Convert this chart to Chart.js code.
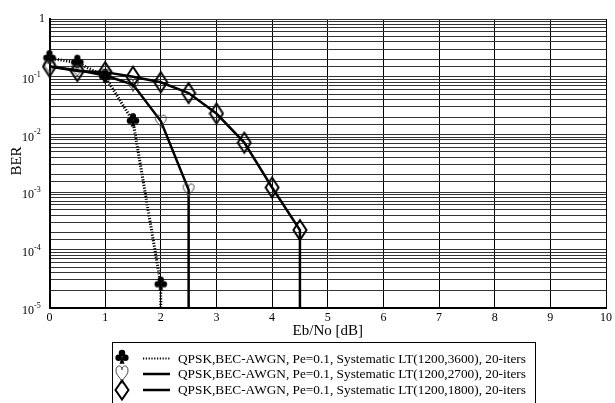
<!DOCTYPE html>
<html>
<head>
<meta charset="utf-8">
<script src="https://cdn.jsdelivr.net/npm/chart.js@4"></script>
<style>
  body { margin: 0; background: #fff; }
  canvas { display: block; }
</style>
</head>
<body>
<canvas id="berChart" width="615" height="403"></canvas>
<script>
// BER curves, Eb/No in dB
const clubsEbNo = [0, 0.5, 1, 1.5, 2, 2];
const clubsBer = [0.21, 0.175, 0.1, 0.017, 2.5e-5, 1e-9];   // last point: drop to zero errors

const heartsEbNo = [0, 0.5, 1, 1.5, 2, 2.5, 2.5];
const heartsBer = [0.15, 0.13, 0.105, 0.073, 0.017, 0.0011, 1e-9];

const diamondsEbNo = [0, 0.5, 1, 1.5, 2, 2.5, 3, 3.5, 4, 4.5, 4.5];
const diamondsBer = [0.15, 0.125, 0.12, 0.1, 0.08, 0.052, 0.023, 0.0072, 0.0012, 0.00022, 1e-9];

const xTicks = [0, 1, 2, 3, 4, 5, 6, 7, 8, 9, 10];
const yDecades = [0, -1, -2, -3, -4, -5];

const legendLabels = [
    'QPSK,BEC-AWGN, Pe=0.1, Systematic LT(1200,3600), 20-iters',
    'QPSK,BEC-AWGN, Pe=0.1, Systematic LT(1200,2700), 20-iters',
    'QPSK,BEC-AWGN, Pe=0.1, Systematic LT(1200,1800), 20-iters'
];

const serif = '"Liberation Serif", "DejaVu Serif", serif';

function drawClub(ctx, cx, cy, s) {
    ctx.save();
    ctx.fillStyle = '#000';
    ctx.beginPath(); ctx.arc(cx, cy - 3.4 * s, 3.1 * s, 0, Math.PI * 2); ctx.fill();
    ctx.beginPath(); ctx.arc(cx - 3.2 * s, cy + 1.2 * s, 3.1 * s, 0, Math.PI * 2); ctx.fill();
    ctx.beginPath(); ctx.arc(cx + 3.2 * s, cy + 1.2 * s, 3.1 * s, 0, Math.PI * 2); ctx.fill();
    ctx.beginPath();
    ctx.moveTo(cx, cy);
    ctx.lineTo(cx - 2.4 * s, cy + 7 * s);
    ctx.lineTo(cx + 2.4 * s, cy + 7 * s);
    ctx.closePath();
    ctx.fill();
    ctx.restore();
}

function drawHeart(ctx, cx, cy, w, h) {
    ctx.save();
    ctx.strokeStyle = '#444';
    ctx.lineWidth = 1;
    ctx.beginPath();
    ctx.moveTo(cx, cy - h * 0.22);
    ctx.bezierCurveTo(cx, cy - h * 0.5, cx - w / 2, cy - h * 0.5, cx - w / 2, cy - h * 0.18);
    ctx.bezierCurveTo(cx - w / 2, cy + h * 0.1, cx, cy + h * 0.22, cx, cy + h / 2);
    ctx.bezierCurveTo(cx, cy + h * 0.22, cx + w / 2, cy + h * 0.1, cx + w / 2, cy - h * 0.18);
    ctx.bezierCurveTo(cx + w / 2, cy - h * 0.5, cx, cy - h * 0.5, cx, cy - h * 0.22);
    ctx.stroke();
    ctx.restore();
}

function drawDiamond(ctx, cx, cy, w, h) {
    ctx.save();
    ctx.strokeStyle = '#000';
    ctx.lineWidth = 2;
    ctx.beginPath();
    ctx.moveTo(cx, cy - h / 2);
    ctx.lineTo(cx + w / 2, cy);
    ctx.lineTo(cx, cy + h / 2);
    ctx.lineTo(cx - w / 2, cy);
    ctx.closePath();
    ctx.stroke();
    ctx.restore();
}

function makeMarker(w, h, fn) {
    const c = document.createElement('canvas');
    c.width = w;
    c.height = h;
    fn(c.getContext('2d'), w / 2, h / 2);
    return c;
}

const clubImg = makeMarker(16, 18, (ctx, cx, cy) => drawClub(ctx, cx, cy - 1.5, 1));
const heartImg = makeMarker(14, 16, (ctx, cx, cy) => drawHeart(ctx, cx, cy, 11, 14));
const diamondImg = makeMarker(16, 24, (ctx, cx, cy) => drawDiamond(ctx, cx, cy, 13, 20));

function toPoints(xs, ys) {
    return xs.map((x, i) => ({ x: x, y: ys[i] }));
}

function radii(n) {
    return Array.from({ length: n }, (_, i) => (i === n - 1 ? 0 : 6));
}

// markers may spill over the plot edge, lines must stop at the bottom
const markClip = { left: 12, top: 12, right: 12, bottom: 0 };

// y tick labels, axis titles and legend box
const decorPlugin = {
    id: 'decor',
    afterDraw(chart) {
        const ctx = chart.ctx;
        const yScale = chart.scales.y;
        const area = chart.chartArea;
        ctx.save();
        ctx.fillStyle = '#000';
        ctx.textBaseline = 'middle';

        yDecades.forEach(e => {
            const py = yScale.getPixelForValue(Math.pow(10, e));
            if (e === 0) {
                ctx.font = '12px ' + serif;
                ctx.textAlign = 'right';
                ctx.fillText('1', 45, py);
            } else {
                ctx.font = '12px ' + serif;
                ctx.textAlign = 'right';
                ctx.fillText('10', 34, py + 3);
                ctx.font = '8px ' + serif;
                ctx.textAlign = 'left';
                ctx.fillText(String(e), 34, py - 2);
            }
        });

        // axis titles
        ctx.font = '15px ' + serif;
        ctx.textAlign = 'center';
        ctx.fillText('Eb/No [dB]', (area.left + area.right) / 2, 331);
        ctx.save();
        ctx.translate(17, 161);
        ctx.rotate(-Math.PI / 2);
        ctx.fillText('BER', 0, 0);
        ctx.restore();

        // legend
        ctx.strokeStyle = '#000';
        ctx.lineWidth = 1;
        ctx.strokeRect(112.5, 342.5, 423, 80);
        const rows = [358.5, 374, 390];
        drawClub(ctx, 122, rows[0] - 2, 1.05);
        drawHeart(ctx, 122, rows[1], 12, 19);
        drawDiamond(ctx, 122, rows[2], 13, 19);

        ctx.beginPath();
        ctx.lineWidth = 2;
        ctx.setLineDash([1.2, 1.6]);
        ctx.moveTo(143, rows[0]);
        ctx.lineTo(170, rows[0]);
        ctx.stroke();
        ctx.setLineDash([]);
        ctx.lineWidth = 2.5;
        [rows[1], rows[2]].forEach(ry => {
            ctx.beginPath();
            ctx.moveTo(143, ry);
            ctx.lineTo(170, ry);
            ctx.stroke();
        });

        ctx.font = '13.3px ' + serif;
        ctx.textAlign = 'left';
        legendLabels.forEach((t, i) => ctx.fillText(t, 178, rows[i] + 1));
        ctx.restore();
    }
};

window.onload = function() {
    var ctxBer = document.getElementById('berChart').getContext('2d');
    var berChart = new Chart(ctxBer, {
        type: 'line',
        data: {
            datasets: [{
                label: legendLabels[0],
                data: toPoints(clubsEbNo, clubsBer),
                borderColor: '#000',
                borderWidth: 3,
                borderDash: [1.2, 1.6],
                pointStyle: clubImg,
                pointRadius: radii(clubsEbNo.length),
                fill: false,
                clip: markClip,
                order: 3
            }, {
                label: legendLabels[1],
                data: toPoints(heartsEbNo, heartsBer),
                borderColor: '#000',
                borderWidth: 2.5,
                pointStyle: heartImg,
                pointRadius: radii(heartsEbNo.length),
                fill: false,
                clip: markClip,
                order: 2
            }, {
                label: legendLabels[2],
                data: toPoints(diamondsEbNo, diamondsBer),
                borderColor: '#000',
                borderWidth: 2.5,
                pointStyle: diamondImg,
                pointRadius: radii(diamondsEbNo.length),
                fill: false,
                clip: markClip,
                order: 1
            }]
        },
        options: {
            responsive: false,
            animation: false,
            layout: {
                padding: { left: 0, right: 6, top: 19, bottom: 77.5 }
            },
            plugins: {
                legend: { display: false },
                tooltip: { enabled: false }
            },
            scales: {
                x: {
                    type: 'linear',
                    min: 0,
                    max: 10,
                    afterBuildTicks: function(scale) {
                        scale.ticks = xTicks.map(v => ({ value: v }));
                    },
                    afterFit: function(scale) { scale.height = 18; },
                    grid: { color: '#000', lineWidth: 1, drawTicks: false },
                    border: { color: '#000', width: 2 },
                    ticks: {
                        color: '#000',
                        padding: 3,
                        font: { family: serif, size: 12 },
                        maxRotation: 0
                    }
                },
                y: {
                    type: 'logarithmic',
                    min: 1e-5,
                    max: 1,
                    afterFit: function(scale) { scale.width = 49.5; },
                    grid: { color: '#333', lineWidth: 1, drawTicks: false },
                    border: { color: '#000', width: 2 },
                    ticks: {
                        autoSkip: false,
                        callback: function() { return ''; }
                    }
                }
            }
        },
        plugins: [decorPlugin]
    });
};
</script>
</body>
</html>
